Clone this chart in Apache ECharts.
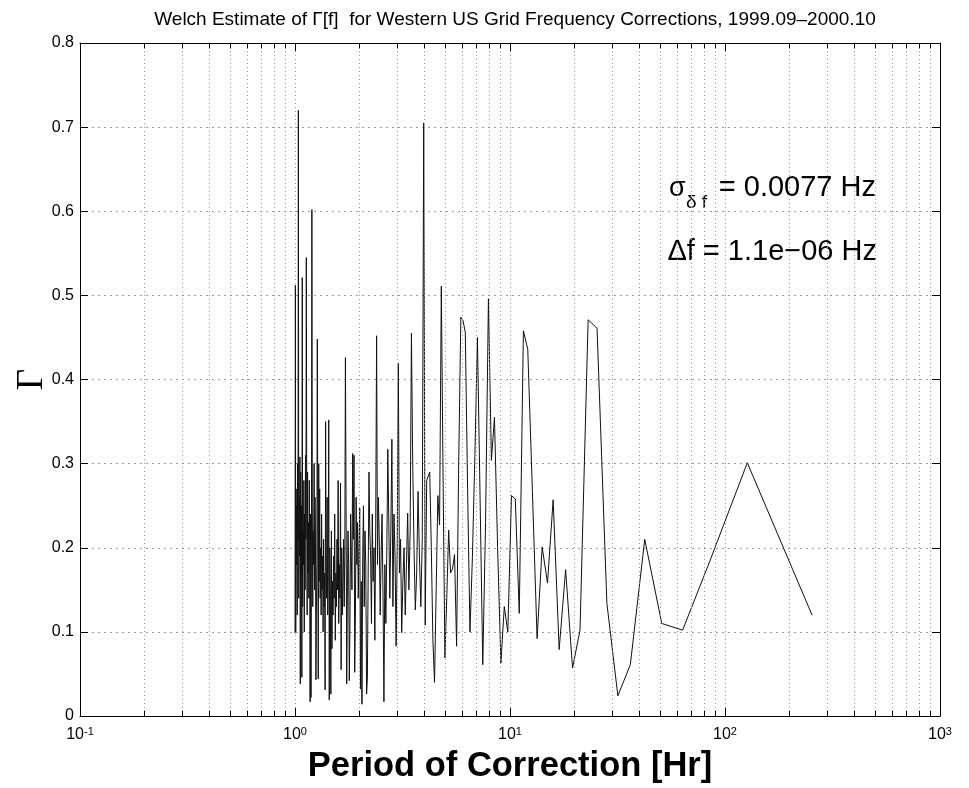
<!DOCTYPE html>
<html><head><meta charset="utf-8">
<script src="https://cdn.jsdelivr.net/npm/echarts@6/dist/echarts.min.js"></script>
<style>html,body{margin:0;padding:0;background:#fff}#c{width:969px;height:788px}</style>
</head><body><div id="c"></div>
<script>
// Period of the first Welch bin (hours); bin k has period BASE_PERIOD_HR / k
const BASE_PERIOD_HR = 254;
// Gamma estimate per frequency bin k = 1..254
const gamma = [
  0.120, 0.301, 0.183, 0.102, 0.110, 0.210, 0.061, 0.024, 0.134, 0.461,
  0.471, 0.102, 0.057, 0.174, 0.079, 0.257, 0.158, 0.201, 0.092, 0.270,
  0.436, 0.458, 0.122, 0.258, 0.262, 0.100, 0.130, 0.063, 0.200, 0.355,
  0.304, 0.496, 0.230, 0.061, 0.260, 0.450, 0.310, 0.188, 0.100, 0.270,
  0.456, 0.470, 0.474, 0.300, 0.083, 0.192, 0.175, 0.170, 0.221, 0.140,
  0.069, 0.280, 0.511, 0.227, 0.262, 0.150, 0.040, 0.090, 0.200, 0.290,
  0.290, 0.280, 0.108, 0.705, 0.210, 0.130, 0.190, 0.267, 0.170, 0.126,
  0.200, 0.300, 0.455, 0.220, 0.150, 0.241, 0.180, 0.120, 0.200, 0.160,
  0.099, 0.210, 0.170, 0.419, 0.200, 0.083, 0.190, 0.240, 0.130, 0.329,
  0.220, 0.140, 0.230, 0.317, 0.200, 0.110, 0.180, 0.017, 0.150, 0.240,
  0.190, 0.120, 0.210, 0.260, 0.180, 0.452, 0.230, 0.090, 0.200, 0.160,
  0.240, 0.110, 0.190, 0.220, 0.290, 0.170, 0.045, 0.026, 0.180, 0.220,
  0.130, 0.250, 0.190, 0.014, 0.160, 0.032, 0.247, 0.200, 0.140, 0.230,
  0.180, 0.260, 0.120, 0.052, 0.310, 0.210, 0.312, 0.150, 0.190, 0.240,
  0.110, 0.042, 0.180, 0.220, 0.140, 0.038, 0.250, 0.426, 0.190, 0.130,
  0.210, 0.160, 0.120, 0.200, 0.055, 0.277, 0.140, 0.180, 0.110, 0.280,
  0.150, 0.210, 0.130, 0.170, 0.090, 0.240, 0.140, 0.190, 0.120, 0.160,
  0.080, 0.220, 0.026, 0.150, 0.200, 0.019, 0.352, 0.160, 0.120, 0.260,
  0.140, 0.180, 0.350, 0.031, 0.170, 0.130, 0.210, 0.100, 0.190, 0.150,
  0.240, 0.120, 0.200, 0.140, 0.270, 0.160, 0.300, 0.044, 0.220, 0.448,
  0.180, 0.120, 0.043, 0.210, 0.260, 0.150, 0.300, 0.180, 0.220, 0.130,
  0.250, 0.602, 0.200, 0.022, 0.240, 0.017, 0.190, 0.280, 0.140, 0.230,
  0.170, 0.290, 0.120, 0.260, 0.545, 0.210, 0.310, 0.150, 0.240, 0.100,
  0.280, 0.180, 0.220, 0.130, 0.521, 0.046, 0.250, 0.170, 0.290, 0.038,
  0.308, 0.190, 0.260, 0.140, 0.720, 0.210, 0.300, 0.120, 0.250, 0.180,
  0.270, 0.100, 0.512, 0.098
];
const X_MIN = 0.1, X_MAX = 1000;
const Y_MIN = 0, Y_MAX = 0.8, Y_STEP = 0.1;
const minorX = [0.2,0.3,0.4,0.5,0.6,0.7,0.8,0.9, 2,3,4,5,6,7,8,9, 20,30,40,50,60,70,80,90, 200,300,400,500,600,700,800,900];
const titleText = 'Welch Estimate of Γ[f]  for Western US Grid Frequency Corrections, 1999.09\u20132000.10';
const xName = 'Period of Correction [Hr]';
const yName = 'Γ';
const annoSigma = 'σ';
const annoSigmaSub = 'δ f';
const annoSigmaValue = '= 0.0077 Hz';
const annoDelta = '\u0394f = 1.1e\u221206 Hz';

const FONT = 'Liberation Sans, Arial, Helvetica, sans-serif';
const data = gamma.map((g, i) => [BASE_PERIOD_HR / (i + 1), g]);

const chart = echarts.init(document.getElementById('c'), null, {renderer: 'canvas'});
const gridLineMinor = {type: [1, 3], color: '#9a9a9a', width: 1};
const tickLen = 0.0065;

const markData = [];
minorX.forEach(v => markData.push({xAxis: v, lineStyle: gridLineMinor}));
minorX.forEach(v => {
  markData.push([{coord: [v, Y_MIN], lineStyle: {type: 'solid', color: '#000', width: 1}}, {coord: [v, Y_MIN + tickLen]}]);
  markData.push([{coord: [v, Y_MAX], lineStyle: {type: 'solid', color: '#000', width: 1}}, {coord: [v, Y_MAX - tickLen]}]);
});

const axisCommon = {
  axisLine: {show: true, onZero: false, lineStyle: {color: '#000', width: 1}},
  axisTick: {show: true, inside: true, length: 8, lineStyle: {color: '#000', width: 1}},
};

chart.setOption({
  animation: false,
  backgroundColor: '#fff',
  title: {
    text: titleText, left: 510, top: 5, textAlign: 'center',
    textStyle: {fontFamily: FONT, fontSize: 19, fontWeight: 'normal', color: '#000'}
  },
  grid: {left: 80, right: 29, top: 43, bottom: 72, containLabel: false, outerBoundsMode: 'none'},
  xAxis: [{
    type: 'log', logBase: 10, min: X_MIN, max: X_MAX, position: 'bottom',
    ...axisCommon,
    splitLine: {show: true, lineStyle: {type: [1, 3], color: '#9a9a9a', width: 1}},
    axisLabel: {
      margin: 10, color: '#000',
      formatter: v => '{b|10}{s|' + Math.round(Math.log10(v)) + '}',
      rich: {
        b: {fontFamily: FONT, fontSize: 16, color: '#000', verticalAlign: 'bottom'},
        s: {fontFamily: FONT, fontSize: 11, color: '#000', verticalAlign: 'top', padding: [0, 0, 6, 0]}
      }
    },
    name: xName, nameLocation: 'middle', nameGap: 33, nameMoveOverlap: false,
    nameTextStyle: {fontFamily: FONT, fontSize: 34.5, fontWeight: 'bold', color: '#000'}
  }, {
    type: 'log', logBase: 10, min: X_MIN, max: X_MAX, position: 'top',
    ...axisCommon, splitLine: {show: false}, axisLabel: {show: false}
  }],
  yAxis: [{
    type: 'value', min: Y_MIN, max: Y_MAX, interval: Y_STEP, position: 'left',
    ...axisCommon,
    splitLine: {show: true, lineStyle: {type: [2, 4], color: '#9a9a9a', width: 1}},
    axisLabel: {margin: 6, color: '#000', fontFamily: FONT, fontSize: 16,
      formatter: v => (Math.round(v * 10) / 10).toString()},
    name: yName, nameLocation: 'middle', nameGap: 29, nameRotate: 90, nameMoveOverlap: false,
    nameTextStyle: {fontFamily: 'Liberation Serif, DejaVu Serif, serif', fontSize: 37, color: '#000'}
  }, {
    type: 'value', min: Y_MIN, max: Y_MAX, interval: Y_STEP, position: 'right',
    ...axisCommon, splitLine: {show: false}, axisLabel: {show: false}
  }],
  series: [{
    type: 'line', data: data, xAxisIndex: 0, yAxisIndex: 0,
    showSymbol: false, symbol: 'none', sampling: null,
    lineStyle: {color: '#111', width: 1},
    markLine: {silent: true, symbol: ['none', 'none'], label: {show: false}, animation: false,
      data: markData}
  }],
  graphic: [
    {type: 'text', x: 669, y: 189, style: {text: annoSigma, fontFamily: FONT, fontSize: 27, fill: '#000', textAlign: 'left', textVerticalAlign: 'middle'}},
    {type: 'text', x: 686, y: 203, style: {text: annoSigmaSub, fontFamily: FONT, fontSize: 19, fill: '#000', textAlign: 'left', textVerticalAlign: 'middle'}},
    {type: 'text', x: 876, y: 188, style: {text: annoSigmaValue, fontFamily: FONT, fontSize: 29, fill: '#000', textAlign: 'right', textVerticalAlign: 'middle'}},
    {type: 'text', x: 877, y: 252, style: {text: annoDelta, fontFamily: FONT, fontSize: 29, fill: '#000', textAlign: 'right', textVerticalAlign: 'middle'}}
  ]
});
</script>
</body></html>
